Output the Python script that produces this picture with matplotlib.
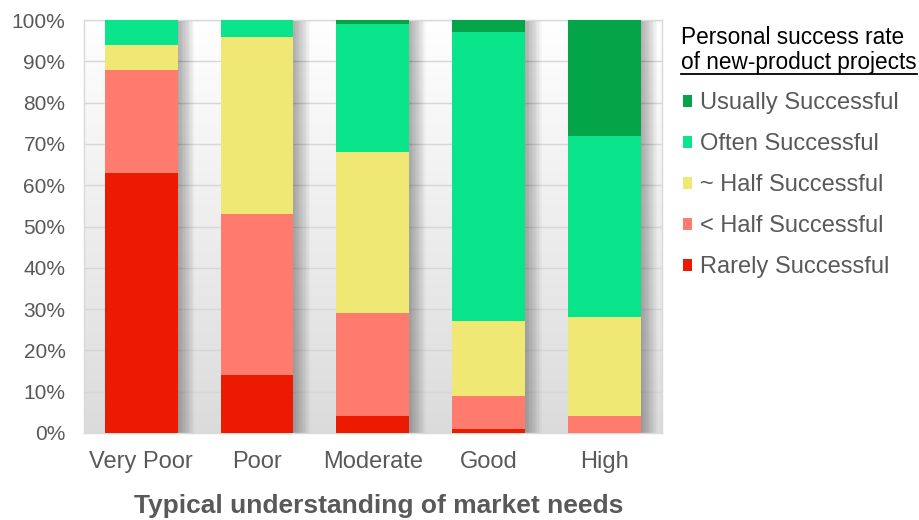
import numpy as np
import matplotlib
matplotlib.use("Agg")
import matplotlib.pyplot as plt
from matplotlib.lines import Line2D

plt.rcParams['font.family'] = ['Liberation Sans', 'DejaVu Sans']

categories = ["Very Poor", "Poor", "Moderate", "Good", "High"]
rarely = [63, 14, 4, 1, 0]
less_half = [25, 39, 25, 8, 4]
half = [6, 43, 39, 18, 24]
often = [6, 4, 31, 70, 44]
usually = [0, 0, 1, 3, 28]

series = [
    ("Rarely Successful", rarely, "#ec1a00"),
    ("< Half Successful", less_half, "#fe7b6e"),
    ("~ Half Successful", half, "#f0e874"),
    ("Often Successful", often, "#0ae58b"),
    ("Usually Successful", usually, "#04a548"),
]

yticks = [0, 10, 20, 30, 40, 50, 60, 70, 80, 90, 100]
ytick_labels = [f"{v}%" for v in yticks]

fig = plt.figure(figsize=(9.19, 5.2), dpi=100)
ax = fig.add_axes([83.5/919, 1-433/520, (662-83.5)/919, (433-20)/520])

x = np.arange(len(categories))
width = 0.63
ax.set_xlim(-0.5, len(categories) - 0.5)
ax.set_ylim(0, 100)

# gradient background
grad = np.linspace(0.0, 1.0, 256).reshape(-1, 1)
top = np.array([1.0, 1.0, 1.0])
bot = np.array([0.86, 0.86, 0.86])
img = top[None, None, :] * (1 - grad[..., None]) + bot[None, None, :] * grad[..., None]
ax.imshow(img, extent=[-0.5, len(categories) - 0.5, 0, 100], aspect='auto',
          origin='upper', zorder=0)

for v in yticks[1:]:
    ax.axhline(v, color="#d6d6d6", lw=1.0, zorder=1)

totals = np.sum([s[1] for s in series], axis=0)
# soft shadows to the right
for k in range(12):
    ax.bar(x - width / 2, totals, width=width + 0.012 * (k + 1), align='edge',
           color='black', alpha=0.028, lw=0, zorder=2)

bottom = np.zeros(len(categories))
handles = []
for name, vals, col in series:
    vals = np.array(vals, dtype=float)
    b = ax.bar(x, vals, width=width, bottom=bottom, color=col, lw=0, zorder=3, label=name)
    bottom += vals
    handles.append(b)

ax.set_yticks(yticks)
ax.set_yticklabels(ytick_labels)
ax.set_xticks(x)
ax.set_xticklabels(categories)
ax.tick_params(axis='y', length=0, labelsize=15, labelcolor="#595959", pad=13)
ax.tick_params(axis='x', length=0, labelsize=17, labelcolor="#595959", pad=13)
for sp in ax.spines.values():
    sp.set_color("#d9d9d9")
    sp.set_linewidth(1.0)
ax.set_xlabel("Typical understanding of market needs", fontsize=19, fontweight='bold',
              color="#595959", labelpad=15)
ax.xaxis.label.set_x(0.51)

# legend title
fig.text(681/919, 1-37/520, "Personal success rate", fontsize=16.3, color="black",
         ha='left', va='center')
t2 = fig.text(681/919, 1-63/520, "of new-product projects", fontsize=16.3, color="black",
              ha='left', va='center')
fig.canvas.draw()
bb = t2.get_window_extent()
fw, fh = fig.bbox.width, fig.bbox.height
fig.add_artist(Line2D([bb.x0 / fw, bb.x1 / fw], [(bb.y0 + 0.5) / fh, (bb.y0 + 0.5) / fh],
                      color="black", lw=1.3, transform=fig.transFigure))

leg = fig.legend(handles=handles[::-1], labels=[s[0] for s in series[::-1]],
                 loc='upper left', bbox_to_anchor=(683/919, 1-92/520), frameon=False,
                 fontsize=17, labelcolor="#595959", handlelength=0.4, handleheight=0.4,
                 handletextpad=0.32, labelspacing=0.81, borderaxespad=0, borderpad=0)

fig.savefig("out.png", dpi=100)
